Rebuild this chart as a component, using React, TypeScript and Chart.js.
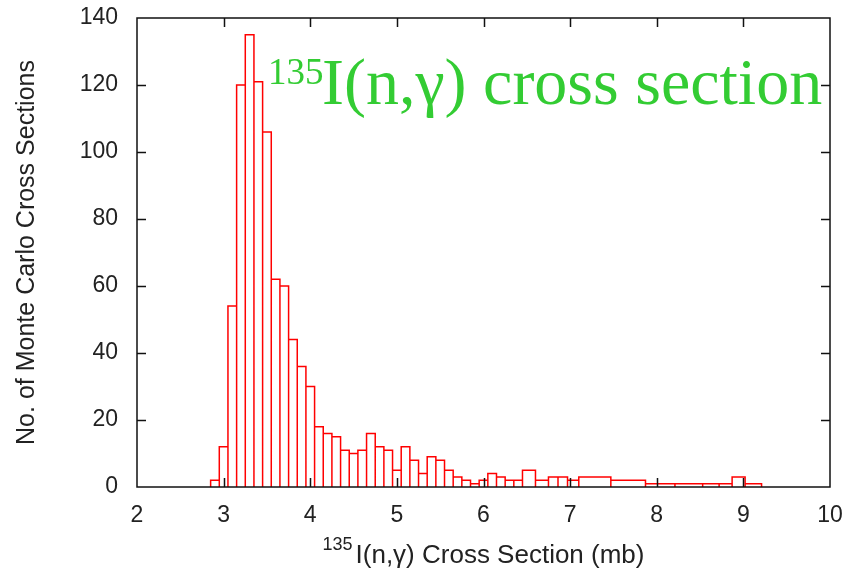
import React, { useEffect, useRef } from "react";
import { Chart, registerables } from "chart.js";

Chart.register(...registerables);

// Histogram boxes: edges (mb) and counts per box
const binEdges: number[] = [
  2.85, 2.95, 3.05, 3.15, 3.25, 3.35, 3.45, 3.55, 3.65, 3.75, 3.85,
  3.95, 4.05, 4.15, 4.25, 4.35, 4.45, 4.55, 4.65, 4.75, 4.85,
  4.95, 5.05, 5.15, 5.25, 5.35, 5.45, 5.55, 5.65, 5.75, 5.85,
  5.95, 6.05, 6.15, 6.25, 6.35, 6.45,
  6.6, 6.75, 6.86, 6.97, 7.1, 7.47, 7.87, 8.21, 8.53, 8.72, 8.87, 9.02, 9.21,
];
const counts: number[] = [
  2, 12, 54, 120, 135, 121, 106, 62, 60, 44,
  36, 30, 18, 16, 15, 11, 10, 11, 16, 12,
  11, 5, 12, 8, 4, 9, 8, 5, 3, 2,
  1, 2, 4, 3, 2, 2,
  5, 2, 3, 3, 2, 3, 2, 1, 1, 1, 1, 3, 1,
];

const xTickValues: number[] = [2, 3, 4, 5, 6, 7, 8, 9, 10];
const yTickValues: number[] = [0, 20, 40, 60, 80, 100, 120, 140];

const yTitle = "No. of Monte Carlo Cross Sections";
const xTitleSup = "135";
const xTitleMain = "I(n,\u03b3) Cross Section (mb)";
const noteSup = "135";
const noteMain = "I(n,\u03b3) cross section";

const SANS = '"Liberation Sans", Arial, sans-serif';
const SERIF = '"Liberation Serif", "Times New Roman", serif';

const framePlugin = {
  id: "frameTicks",
  afterDatasetsDraw(chart: any) {
    const { ctx, chartArea: a, scales } = chart;
    const x = scales.x;
    const y = scales.y;
    ctx.save();
    ctx.strokeStyle = "#111";
    ctx.lineWidth = 1.5;
    ctx.beginPath();
    const L = 9;
    xTickValues.forEach((v) => {
      if (v <= x.min || v >= x.max) return;
      const px = Math.round(x.getPixelForValue(v)) + 0.5;
      ctx.moveTo(px, a.bottom);
      ctx.lineTo(px, a.bottom - L);
      ctx.moveTo(px, a.top);
      ctx.lineTo(px, a.top + L);
    });
    yTickValues.forEach((v) => {
      if (v <= y.min || v >= y.max) return;
      const py = Math.round(y.getPixelForValue(v)) + 0.5;
      ctx.moveTo(a.left, py);
      ctx.lineTo(a.left + L, py);
      ctx.moveTo(a.right, py);
      ctx.lineTo(a.right - L, py);
    });
    ctx.stroke();
    ctx.strokeRect(a.left, a.top, a.right - a.left, a.bottom - a.top);
    ctx.restore();
  },
  afterDraw(chart: any) {
    const { ctx, chartArea: a } = chart;
    ctx.save();
    // x axis title with superscript
    ctx.fillStyle = "#222";
    ctx.textBaseline = "alphabetic";
    ctx.textAlign = "left";
    ctx.font = `18px ${SANS}`;
    const wSup = ctx.measureText(xTitleSup).width;
    ctx.font = `26px ${SANS}`;
    const wMain = ctx.measureText(xTitleMain).width;
    const cx = (a.left + a.right) / 2;
    const startX = cx - (wSup + wMain + 3) / 2;
    ctx.font = `18px ${SANS}`;
    ctx.fillText(xTitleSup, startX, 550);
    ctx.font = `26px ${SANS}`;
    ctx.fillText(xTitleMain, startX + wSup + 3, 563);

    // green annotation
    ctx.fillStyle = "#33cc33";
    ctx.font = `37px ${SERIF}`;
    ctx.fillText(noteSup, 268, 84);
    ctx.font = `66px ${SERIF}`;
    ctx.fillText(noteMain, 322, 104);
    ctx.restore();
  },
};

export default function App() {
  const canvasRef = useRef<HTMLCanvasElement | null>(null);

  useEffect(() => {
    const canvas = canvasRef.current;
    if (!canvas) return;
    const pts: { x: number; y: number }[] = [];
    for (let i = 0; i < counts.length; i++) {
      const l = binEdges[i];
      const r = binEdges[i + 1];
      pts.push({ x: l, y: 0 }, { x: l, y: counts[i] }, { x: r, y: counts[i] }, { x: r, y: 0 });
    }
    const chart = new Chart(canvas, {
      type: "scatter",
      data: {
        datasets: [
          {
            data: pts,
            showLine: true,
            borderColor: "rgb(255,0,0)",
            borderWidth: 1.5,
            pointRadius: 0,
            tension: 0,
            fill: false,
          } as any,
        ],
      },
      plugins: [framePlugin],
      options: {
        animation: false,
        responsive: false,
        devicePixelRatio: 1,
        layout: { padding: { top: 18, right: 18, left: 0, bottom: 0 } },
        plugins: { legend: { display: false }, tooltip: { enabled: false } },
        scales: {
          x: {
            type: "linear",
            min: 2,
            max: 10,
            afterBuildTicks: (s: any) => {
              s.ticks = xTickValues.map((v) => ({ value: v }));
            },
            afterFit: (s: any) => {
              s.height = 81;
              s.paddingLeft = 0;
              s.paddingRight = 0;
            },
            grid: { display: false, drawTicks: false },
            border: { display: false },
            ticks: {
              padding: 15,
              color: "#222",
              font: { family: SANS, size: 23 },
              maxRotation: 0,
            },
          },
          y: {
            type: "linear",
            min: 0,
            max: 140,
            afterBuildTicks: (s: any) => {
              s.ticks = yTickValues.map((v) => ({ value: v }));
            },
            afterFit: (s: any) => {
              s.width = 137;
              s.paddingTop = 0;
              s.paddingBottom = 0;
            },
            grid: { display: false, drawTicks: false },
            border: { display: false },
            ticks: {
              padding: 19,
              color: "#222",
              font: { family: SANS, size: 23 },
            },
            title: {
              display: true,
              text: yTitle,
              color: "#222",
              font: { family: SANS, size: 25 },
              padding: { top: 12, bottom: 0 },
            },
          },
        },
      },
    });
    return () => chart.destroy();
  }, []);

  return (
    <div style={{ position: "absolute", left: 0, top: 0, width: 848, height: 568, background: "#fff" }}>
      <canvas ref={canvasRef} width={848} height={568} style={{ display: "block" }} />
    </div>
  );
}
